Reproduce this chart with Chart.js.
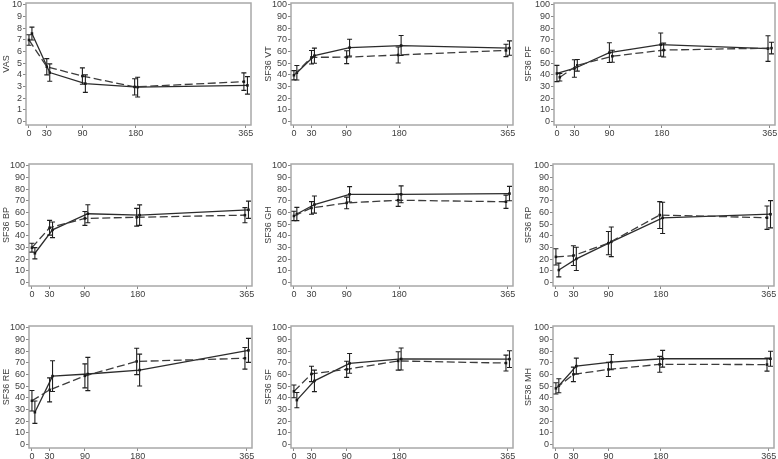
<!DOCTYPE html>
<html>
<head>
<meta charset="utf-8">
<script src="https://cdn.jsdelivr.net/npm/chart.js@4.4.1/dist/chart.umd.min.js"></script>
<style>
  html, body { margin: 0; padding: 0; background: #fff; }
  #wrap { position: relative; width: 778px; height: 459px; overflow: hidden; background: #fff; }
  #wrap canvas { position: absolute; }
</style>
</head>
<body>
<div id="wrap"></div>
<script>
// ---------- data ----------
const xTicks = [0, 30, 90, 180, 365];
const xLeft  = [0, 30, 90, 178, 362];
const xRight = [5, 35, 95, 183, 368];
const yTicks10  = [0, 1, 2, 3, 4, 5, 6, 7, 8, 9, 10];
const yTicks100 = [0, 10, 20, 30, 40, 50, 60, 70, 80, 90, 100];

const vasSolid     = [7.55, 4.2, 3.25, 2.95, 3.1];
const vasSolidErr  = [0.55, 0.75, 0.75, 0.85, 0.75];
const vasDashed    = [7.0, 4.7, 3.9, 2.97, 3.42];
const vasDashedErr = [0.45, 0.7, 0.7, 0.7, 0.75];

const vtSolid     = [41.8, 56.5, 63.4, 65.2, 63.0];
const vtSolidErr  = [6.2, 6.5, 7.2, 8.6, 6.2];
const vtDashed    = [39.7, 55.1, 55.2, 57.1, 61.0];
const vtDashedErr = [4.0, 5.8, 5.5, 6.9, 5.3];

const pfSolid     = [41.2, 45.5, 59.1, 66.0, 62.6];
const pfSolidErr  = [7.0, 7.5, 8.5, 10.0, 11.0];
const pfDashed    = [38.0, 48.2, 56.0, 61.3, 63.0];
const pfDashedErr = [3.2, 5.0, 5.2, 6.0, 5.0];

const bpSolid     = [25.1, 45.2, 59.0, 57.8, 62.4];
const bpSolidErr  = [4.8, 6.7, 7.7, 8.8, 7.4];
const bpDashed    = [29.9, 47.0, 55.0, 56.0, 57.8];
const bpDashedErr = [3.8, 6.3, 6.0, 7.6, 6.5];

const ghSolid     = [58.8, 66.9, 75.7, 75.7, 76.3];
const ghSolidErr  = [5.7, 7.4, 6.6, 7.2, 6.2];
const ghDashed    = [57.1, 64.0, 68.3, 70.6, 69.3];
const ghDashedErr = [4.0, 5.4, 5.0, 5.3, 5.7];

const rpSolid     = [10.7, 20.3, 34.9, 55.5, 58.6];
const rpSolidErr  = [5.9, 10.0, 12.7, 13.4, 11.7];
const rpDashed    = [22.0, 23.1, 33.8, 57.9, 55.6];
const rpDashedErr = [7.0, 8.5, 10.0, 11.5, 10.0];

const reSolid     = [27.7, 58.7, 60.5, 63.9, 80.8];
const reSolidErr  = [9.6, 13.2, 14.3, 13.7, 10.3];
const reDashed    = [37.5, 46.9, 58.9, 71.3, 74.0];
const reDashedErr = [8.8, 10.3, 10.3, 11.3, 9.3];

const sfSolid     = [38.1, 54.6, 69.6, 73.4, 73.3];
const sfSolidErr  = [6.5, 9.2, 8.5, 9.4, 7.2];
const sfDashed    = [45.6, 60.6, 64.5, 71.7, 69.9];
const sfDashedErr = [5.5, 6.6, 6.9, 7.9, 6.8];

const mhSolid     = [50.4, 67.3, 70.7, 73.6, 73.6];
const mhSolidErr  = [6.0, 6.8, 6.6, 7.2, 6.4];
const mhDashed    = [48.2, 60.2, 64.4, 68.8, 68.6];
const mhDashedErr = [4.8, 6.2, 6.1, 6.8, 5.6];

const panels = [
  {title: 'VAS',     s: vasSolid, se: vasSolidErr, d: vasDashed, de: vasDashedErr, sx: xRight, dx: xLeft,  ticks: yTicks10,  row: 0, col: 0},
  {title: 'SF36 VT', s: vtSolid,  se: vtSolidErr,  d: vtDashed,  de: vtDashedErr,  sx: xRight, dx: xLeft,  ticks: yTicks100, row: 0, col: 1},
  {title: 'SF36 PF', s: pfSolid,  se: pfSolidErr,  d: pfDashed,  de: pfDashedErr,  sx: xLeft,  dx: xRight, ticks: yTicks100, row: 0, col: 2},
  {title: 'SF36 BP', s: bpSolid,  se: bpSolidErr,  d: bpDashed,  de: bpDashedErr,  sx: xRight, dx: xLeft,  ticks: yTicks100, row: 1, col: 0},
  {title: 'SF36 GH', s: ghSolid,  se: ghSolidErr,  d: ghDashed,  de: ghDashedErr,  sx: xRight, dx: xLeft,  ticks: yTicks100, row: 1, col: 1},
  {title: 'SF36 RP', s: rpSolid,  se: rpSolidErr,  d: rpDashed,  de: rpDashedErr,  sx: xRight, dx: xLeft,  ticks: yTicks100, row: 1, col: 2},
  {title: 'SF36 RE', s: reSolid,  se: reSolidErr,  d: reDashed,  de: reDashedErr,  sx: xRight, dx: xLeft,  ticks: yTicks100, row: 2, col: 0},
  {title: 'SF36 SF', s: sfSolid,  se: sfSolidErr,  d: sfDashed,  de: sfDashedErr,  sx: xRight, dx: xLeft,  ticks: yTicks100, row: 2, col: 1},
  {title: 'SF36 MH', s: mhSolid,  se: mhSolidErr,  d: mhDashed,  de: mhDashedErr,  sx: xRight, dx: xLeft,  ticks: yTicks100, row: 2, col: 2}
];

// ---------- layout (frame positions in page pixels) ----------
const colFrames = [
  {left: 29, right: 252, titleX: 6},
  {left: 291, right: 513, titleX: 268},
  {left: 553, right: 774, titleX: 528}
];
const row0ColFrames = [{left: 26, right: 251}, {left: 291, right: 513}, {left: 554, right: 775}];
const rowFrames = [
  {top: 3, bottom: 125},
  {top: 164, bottom: 286},
  {top: 326, bottom: 448}
];

const FONT = {family: '"Liberation Sans", Arial, sans-serif', size: 9};
const TXT = '#404040';

const framePlugin = {
  id: 'frame',
  beforeDatasetsDraw(chart) {
    const a = chart.chartArea, ctx = chart.ctx;
    ctx.save();
    ctx.strokeStyle = '#a8a8a8';
    ctx.lineWidth = 1.5;
    ctx.strokeRect(a.left, a.top, a.right - a.left, a.bottom - a.top);
    ctx.restore();
  }
};

const errPlugin = {
  id: 'errbars',
  afterDatasetsDraw(chart) {
    const ctx = chart.ctx, xs = chart.scales.x, ys = chart.scales.y;
    ctx.save();
    ctx.strokeStyle = '#1e1e1e';
    ctx.lineWidth = 1.1;
    ctx.setLineDash([]);
    chart.data.datasets.forEach(ds => {
      ds.data.forEach((p, i) => {
        const e = ds.errs[i];
        const x = xs.getPixelForValue(p.x);
        const y1 = ys.getPixelForValue(p.y + e);
        const y2 = ys.getPixelForValue(p.y - e);
        ctx.beginPath();
        ctx.moveTo(x, y1); ctx.lineTo(x, y2);
        ctx.moveTo(x - 2.5, y1); ctx.lineTo(x + 2.5, y1);
        ctx.moveTo(x - 2.5, y2); ctx.lineTo(x + 2.5, y2);
        ctx.stroke();
      });
    });
    ctx.restore();
  }
};

const wrap = document.getElementById('wrap');
const TOPPAD = 10, RIGHTPAD = 12, XH = 15;

panels.forEach(p => {
  const cf = p.row === 0 ? Object.assign({}, colFrames[p.col], row0ColFrames[p.col]) : colFrames[p.col];
  const rf = rowFrames[p.row];
  const canvasLeft = Math.round(cf.titleX - 5.4);
  const wy = cf.left - canvasLeft;
  const fw = cf.right - cf.left;
  const fh = rf.bottom - rf.top;
  const cw = wy + fw + RIGHTPAD;
  const ch = TOPPAD + fh + XH;
  const cv = document.createElement('canvas');
  cv.width = cw; cv.height = ch;
  cv.style.left = canvasLeft + 'px';
  cv.style.top = (rf.top - TOPPAD) + 'px';
  cv.style.width = cw + 'px';
  cv.style.height = ch + 'px';
  wrap.appendChild(cv);

  const top = p.ticks[p.ticks.length - 1];
  const ymin = -0.03 * top, ymax = top * 1.017;

  const mk = (xv, yv) => xv.map((x, i) => ({x: x, y: yv[i]}));

  new Chart(cv.getContext('2d'), {
    type: 'line',
    data: {
      datasets: [
        {
          data: mk(p.dx, p.d), errs: p.de,
          borderColor: '#3c3c3c', borderWidth: 1.3, borderDash: [8, 3.5],
          pointStyle: 'rect', pointRadius: 1.8, pointBackgroundColor: '#111', pointBorderWidth: 0,
          fill: false, tension: 0
        },
        {
          data: mk(p.sx, p.s), errs: p.se,
          borderColor: '#2c2c2c', borderWidth: 1.3,
          pointStyle: 'rect', pointRadius: 1.8, pointBackgroundColor: '#111', pointBorderWidth: 0,
          fill: false, tension: 0
        }
      ]
    },
    options: {
      responsive: false, animation: false, devicePixelRatio: 1,
      layout: {padding: {left: 0, top: TOPPAD, right: RIGHTPAD, bottom: 0}},
      plugins: {legend: {display: false}, tooltip: {enabled: false}},
      scales: {
        x: {
          type: 'linear', min: -5, max: 374,
          afterBuildTicks: s => { s.ticks = xTicks.map(v => ({value: v})); },
          afterFit: s => { s.height = XH; },
          grid: {drawOnChartArea: false, drawTicks: true, tickLength: 3, color: '#888', lineWidth: 1},
          border: {display: false},
          ticks: {font: FONT, color: TXT, padding: 0, maxRotation: 0, autoSkip: false}
        },
        y: {
          type: 'linear', min: ymin, max: ymax,
          afterBuildTicks: s => { s.ticks = p.ticks.map(v => ({value: v})); },
          afterFit: s => { s.width = wy; },
          grid: {drawOnChartArea: false, drawTicks: true, tickLength: 3, color: '#888', lineWidth: 1},
          border: {display: false},
          ticks: {font: FONT, color: TXT, padding: 1, autoSkip: false},
          title: {display: true, text: p.title, font: FONT, color: TXT, padding: 0}
        }
      }
    },
    plugins: [framePlugin, errPlugin]
  });
});
</script>
</body>
</html>
